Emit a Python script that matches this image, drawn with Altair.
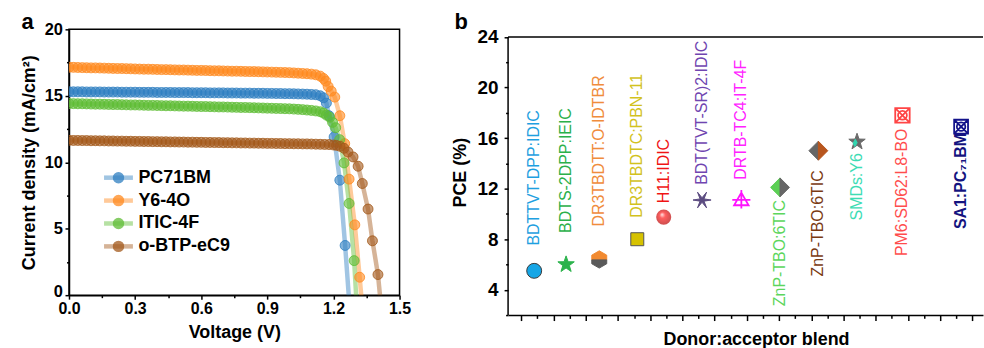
import altair as alt
import pandas as pd

FONT = "Liberation Sans"

# ---------------- panel a : J-V curves ----------------
SERIES = ["PC71BM", "Y6-4O", "ITIC-4F", "o-BTP-eC9"]
SERIES_COLORS = ["#2f7fc1", "#ff8a1f", "#5fbd35", "#a3591b"]

V_FLAT = [0.00, 0.02, 0.04, 0.06, 0.08, 0.10, 0.12, 0.14, 0.16, 0.18,
          0.20, 0.22, 0.24, 0.26, 0.28, 0.30, 0.32, 0.34, 0.36, 0.38,
          0.40, 0.42, 0.44, 0.46, 0.48, 0.50, 0.52, 0.54, 0.56, 0.58,
          0.60, 0.62, 0.64, 0.66, 0.68, 0.70, 0.72, 0.74, 0.76, 0.78,
          0.80, 0.82, 0.84, 0.86, 0.88, 0.90, 0.92, 0.94, 0.96, 0.98,
          1.00, 1.02, 1.04, 1.06, 1.08, 1.10]

J_PC71BM = [15.30, 15.30, 15.30, 15.30, 15.29, 15.29, 15.29, 15.29, 15.28, 15.28,
            15.28, 15.28, 15.27, 15.27, 15.27, 15.27, 15.26, 15.26, 15.26, 15.26,
            15.25, 15.25, 15.25, 15.25, 15.24, 15.24, 15.24, 15.24, 15.23, 15.23,
            15.23, 15.23, 15.22, 15.22, 15.22, 15.22, 15.21, 15.21, 15.21, 15.20,
            15.20, 15.20, 15.19, 15.19, 15.19, 15.18, 15.18, 15.17, 15.17, 15.16,
            15.16, 15.15, 15.14, 15.13, 15.12, 15.10]
V_PC71BM_END = [1.12, 1.14, 1.155, 1.168, 1.18, 1.203, 1.229, 1.253, 1.276]
J_PC71BM_END = [15.08, 15.00, 14.85, 14.45, 13.50, 11.90, 8.65, 3.74, -1.5]

J_Y64O = [17.15, 17.14, 17.13, 17.12, 17.11, 17.10, 17.10, 17.09, 17.08, 17.07,
          17.06, 17.05, 17.05, 17.04, 17.03, 17.02, 17.01, 17.00, 17.00, 16.99,
          16.98, 16.97, 16.97, 16.96, 16.95, 16.94, 16.94, 16.93, 16.92, 16.91,
          16.91, 16.90, 16.89, 16.88, 16.88, 16.87, 16.86, 16.85, 16.85, 16.84,
          16.83, 16.82, 16.82, 16.81, 16.80, 16.79, 16.78, 16.77, 16.76, 16.75,
          16.74, 16.72, 16.70, 16.68, 16.66, 16.63]
V_Y64O_END = [1.12, 1.14, 1.155, 1.165, 1.176, 1.19, 1.206, 1.229, 1.251, 1.271, 1.297, 1.319, 1.334]
J_Y64O_END = [16.58, 16.48, 16.30, 16.10, 15.70, 15.35, 14.90, 13.50, 11.40, 8.73, 5.29, 1.35, -1.5]

J_ITIC4F = [14.42, 14.41, 14.40, 14.40, 14.39, 14.38, 14.37, 14.37, 14.36, 14.35,
            14.34, 14.34, 14.33, 14.32, 14.31, 14.31, 14.30, 14.29, 14.28, 14.28,
            14.27, 14.26, 14.25, 14.25, 14.24, 14.23, 14.22, 14.22, 14.21, 14.20,
            14.19, 14.19, 14.18, 14.17, 14.16, 14.16, 14.15, 14.14, 14.13, 14.12,
            14.12, 14.11, 14.10, 14.09, 14.08, 14.07, 14.06, 14.05, 14.04, 14.03,
            14.02, 14.00, 13.98, 13.96, 13.93, 13.90]
V_ITIC4F_END = [1.12, 1.14, 1.155, 1.168, 1.183, 1.196, 1.21, 1.228, 1.248, 1.271, 1.294, 1.308]
J_ITIC4F_END = [13.86, 13.80, 13.70, 13.55, 13.39, 13.00, 12.60, 11.70, 9.95, 6.90, 2.60, -1.5]

J_OBTP = [11.65, 11.64, 11.64, 11.63, 11.63, 11.62, 11.62, 11.61, 11.61, 11.60,
          11.60, 11.59, 11.59, 11.58, 11.58, 11.57, 11.57, 11.56, 11.56, 11.55,
          11.55, 11.54, 11.54, 11.53, 11.53, 11.52, 11.52, 11.51, 11.51, 11.50,
          11.50, 11.49, 11.49, 11.48, 11.48, 11.47, 11.47, 11.46, 11.46, 11.45,
          11.45, 11.44, 11.44, 11.43, 11.43, 11.42, 11.42, 11.41, 11.41, 11.40,
          11.40, 11.39, 11.39, 11.38, 11.38, 11.37]
V_OBTP_END = [1.12, 1.14, 1.16, 1.18, 1.20, 1.214, 1.23, 1.248, 1.266, 1.289, 1.312, 1.331, 1.357, 1.377, 1.402, 1.42]
J_OBTP_END = [11.36, 11.35, 11.34, 11.33, 11.30, 11.27, 11.20, 11.05, 10.77, 10.40, 9.70, 8.40, 6.48, 4.09, 1.55, -1.5]

X_TICKS_A = [0, 0.15, 0.3, 0.45, 0.6, 0.75, 0.9, 1.05, 1.2, 1.35, 1.5]
Y_TICKS_A = [0, 2.5, 5, 7.5, 10, 12.5, 15, 17.5, 20]

# ---------------- panel b : PCE of blends ----------------
BLENDS = ["BDTTVT-DPP:IDIC", "BDTS-2DPP:IEIC", "DR3TBDTT:O-IDTBR", "DR3TBDTC:PBN-11",
          "H11:IDIC", "BDT(TVT-SR)2:IDIC", "DRTB-TC4:IT-4F", "ZnP-TBO:6TIC",
          "ZnP-TBO:6TIC", "SMDs:Y6", "PM6:SD62:L8-BO", "SA1:PC\u2087\u2081BM"]
PCE = [5.5, 6.0, 6.4, 8.0, 9.75, 11.1, 11.15, 12.1, 15.0, 15.7, 17.8, 16.9]
XPOS = [0.40, 1.39, 2.42, 3.60, 4.42, 5.61, 6.83, 8.03, 9.22, 10.42, 11.83, 13.65]
LABEL_AT = [7.5, 8.5, 9.0, 9.7, 10.85, 12.3, 12.7, 11.1, 13.45, 14.8, 16.75, 16.4]
LABEL_SIDE = ["above"] * 7 + ["below"] * 5
LABEL_COLORS = ["#1ea0e0", "#2bb04a", "#f08c3c", "#d2c21e", "#f01414", "#7045b0",
                "#ff22ff", "#5cd65c", "#7a3a12", "#3ddcb4", "#ff4d4d", "#141480"]
X_TICKS_B = [i * 0.5 for i in range(0, 29)]
Y_TICKS_B = [2, 4, 6, 8, 10, 12, 14, 16, 18, 20, 22, 24]
XMIN, XMAX = -0.41, 14.33
YMIN, YTOP, YMAX = 2, 24, 24.6

# symbol paths (unit box)
STAR = "M0,-1L0.235,-0.324L0.951,-0.309L0.38,0.124L0.588,0.809L0,0.4L-0.588,0.809L-0.38,0.124L-0.951,-0.309L-0.235,-0.324Z"
STAR6 = "M1,0L0.22,0.125L0.5,0.866L0,0.25L-0.5,0.866L-0.22,0.125L-1,0L-0.22,-0.125L-0.5,-0.866L0,-0.25L0.5,-0.866L0.22,-0.125Z"
HEX_TOP = "M-0.866,0.05L-0.866,-0.5L0,-1L0.866,-0.5L0.866,0.05Z"
HEX_BOT = "M-0.866,0.05L0.866,0.05L0.866,0.5L0,1L-0.866,0.5Z"
DIA_L = "M0,-1L-1,0L0,1Z"
DIA_R = "M0,-1L1,0L0,1Z"
TEAL_BIT = "M-0.2,-0.3L-0.45,0.15L-0.25,0.55L0.02,0.1Z"
TRI_PLUS = "M0,-0.75L0.8,0.65L-0.8,0.65ZM0,-1.05L0,1M-1,0.05L1,0.05"
BOX_X = "M-0.9,-0.9L0.9,-0.9L0.9,0.9L-0.9,0.9ZM-0.9,-0.9L0.9,0.9M0.9,-0.9L-0.9,0.9M0.55,0A0.55,0.55 0 1,1 -0.55,0A0.55,0.55 0 1,1 0.55,0Z"

# ---------------- build tables ----------------
rows = []
for name, jf, ve, je in [("PC71BM", J_PC71BM, V_PC71BM_END, J_PC71BM_END),
                          ("Y6-4O", J_Y64O, V_Y64O_END, J_Y64O_END),
                          ("ITIC-4F", J_ITIC4F, V_ITIC4F_END, J_ITIC4F_END),
                          ("o-BTP-eC9", J_OBTP, V_OBTP_END, J_OBTP_END)]:
    for i, (v, j) in enumerate(zip(V_FLAT + ve, jf + je)):
        rows.append({"name": name, "V": v, "J": j, "i": i})
jv = pd.DataFrame(rows)

labels = pd.DataFrame({"blend": BLENDS, "pce": LABEL_AT, "xpos": XPOS,
                       "side": LABEL_SIDE, "tcol": LABEL_COLORS})

filled_parts = pd.DataFrame({
    "xpos": [XPOS[0], XPOS[1], XPOS[2], XPOS[2], XPOS[3], XPOS[5], XPOS[7], XPOS[7], XPOS[8], XPOS[8], XPOS[9], XPOS[9]],
    "pce":  [PCE[0], PCE[1], PCE[2], PCE[2], PCE[3], PCE[5], PCE[7], PCE[7], PCE[8], PCE[8], PCE[9], PCE[9]],
    "shape": ["circle", STAR, HEX_TOP, HEX_BOT, "square", STAR6, DIA_L, DIA_R, DIA_L, DIA_R, STAR, TEAL_BIT],
    "fill": ["#16a6e6", "#2bb24c", "#f28a30", "#5a5a5a", "#d6c200", "#5b4b80", "#5ccf55", "#666666",
             "#666666", "#b8561e", "#6a6a6a", "#33d6b0"],
    "stroke": ["#3a3a3a", "#2bb24c", "#f28a30", "#5a5a5a", "#555555", "#5b4b80", "#5ccf55", "#666666",
               "#666666", "#b8561e", "#6a6a6a", "#33d6b0"],
    "size": [225, 300, 300, 300, 170, 330, 360, 360, 360, 360, 300, 300],
})
open_parts = pd.DataFrame({
    "xpos": [XPOS[6], XPOS[10], XPOS[11]],
    "pce": [PCE[6], PCE[10], PCE[11]],
    "shape": [TRI_PLUS, BOX_X, BOX_X],
    "stroke": ["#ff11ff", "#ff4545", "#12128a"],
    "size": [330, 260, 240],
})
sphere = pd.DataFrame({"xpos": [XPOS[4]], "pce": [PCE[4]]})
frame_b = pd.DataFrame({"xpos": [XMIN, XMIN], "x2": [XMAX, XMIN],
                        "pce": [YTOP, YMIN], "y2": [YTOP, YTOP]})

# ---------------- panel a chart ----------------
AX_COMMON = dict(domainColor="black", domainWidth=1.5, tickColor="black", tickWidth=1.5,
                 labelFont=FONT, labelFontWeight="bold", labelColor="black", labelFlush=False,
                 labelOverlap=False,
                 titleFont=FONT, titleFontWeight="bold", titleColor="black", grid=False)

xa = alt.X("V:Q", scale=alt.Scale(domain=[0, 1.5], nice=False, zero=False),
           axis=alt.Axis(values=X_TICKS_A, title="Voltage (V)",
                         labelExpr="round(datum.value*20) % 2 == 0 ? format(datum.value, '.1f') : ''",
                         tickSize={"condition": {"test": "round(datum.value*20) % 2 == 0", "value": 4}, "value": 2.5},
                         labelFontSize=16, titleFontSize=18, labelPadding=1.5, titlePadding=7.5,
                         **AX_COMMON))
ya = alt.Y("J:Q", scale=alt.Scale(domain=[0, 20], nice=False, zero=False),
           axis=alt.Axis(values=Y_TICKS_A, title="Current density (mA/cm\u00b2)",
                         labelExpr="datum.value % 5 == 0 ? format(datum.value, 'd') : ''",
                         tickSize={"condition": {"test": "datum.value % 5 == 0", "value": 4}, "value": 2.5},
                         labelOffset={"condition": {"test": "datum.value == 0", "value": -3.5}, "value": 0},
                         labelFontSize=16.5, titleFontSize=18, labelPadding=2.6, titlePadding=5.6,
                         **AX_COMMON))

LEG_X, LEG_Y = 40.7, 140
leg_common = dict(orient="none", legendX=LEG_X, legendY=LEG_Y, title=None, symbolSize=100,
                  labelFont=FONT, labelFontSize=18, labelFontWeight="bold", labelColor="black",
                  labelOffset=11, rowPadding=5, padding=0)

line_layer = alt.Chart(jv).mark_line(strokeWidth=4.5, opacity=0.45, clip=True).encode(
    x=xa, y=ya,
    color=alt.Color("name:N", scale=alt.Scale(domain=SERIES, range=SERIES_COLORS),
                    legend=alt.Legend(symbolType="M-2.9,0L2.9,0", symbolStrokeWidth=4.5,
                                      symbolOpacity=0.45, labelOpacity=0, **leg_common)),
    order="i:Q")
pt_layer = alt.Chart(jv).mark_point(filled=True, size=100, fillOpacity=0.6, strokeWidth=1,
                                    strokeOpacity=0.8, clip=True).encode(
    x=xa, y=ya,
    color=alt.Color("name:N", scale=alt.Scale(domain=SERIES, range=SERIES_COLORS),
                    legend=alt.Legend(symbolType="circle", symbolOpacity=0.75, **leg_common)),
    stroke=alt.Stroke("name:N", scale=alt.Scale(domain=SERIES, range=SERIES_COLORS), legend=None))
a_label = alt.Chart(pd.DataFrame({"t": ["a"]})).mark_text(
    font=FONT, fontSize=22, fontWeight="bold", align="left", baseline="alphabetic", color="black"
).encode(text="t:N", x=alt.value(-47.6), y=alt.value(0))

left = alt.layer(line_layer, pt_layer, a_label).resolve_scale(color="independent", stroke="independent").properties(
    width=332, height=267, view=alt.ViewBackground(stroke="black", strokeWidth=1.5))

# ---------------- panel b chart ----------------
def xb():
    return alt.X("xpos:Q", scale=alt.Scale(domain=[XMIN, XMAX], nice=False, zero=False),
                 axis=alt.Axis(values=X_TICKS_B, labels=False, title="Donor:acceptor blend",
                               tickSize={"condition": {"test": "datum.value % 1 == 0", "value": 5.5}, "value": 3.3},
                               titleFontSize=18, titlePadding=9, titleX=249, **AX_COMMON))
def yb():
    return alt.Y("pce:Q", scale=alt.Scale(domain=[YMIN, YMAX], nice=False, zero=False),
                 axis=alt.Axis(values=Y_TICKS_B, title="PCE (%)", domain=False,
                               labelExpr="datum.value % 4 == 0 ? format(datum.value, 'd') : ''",
                               tickSize={"condition": {"test": "datum.value % 4 == 0", "value": 4}, "value": 2.5},
                               labelFontSize=19, titleFontSize=18, labelPadding=6, titlePadding=7.3,
                               **AX_COMMON))

frame_layer = alt.Chart(frame_b).mark_rule(color="black", strokeWidth=1.5).encode(
    x=xb(), x2="x2:Q", y=yb(), y2="y2:Q")
filled_layer = alt.Chart(filled_parts).mark_point(filled=True, strokeWidth=1, opacity=1).encode(
    x=xb(), y=yb(),
    shape=alt.Shape("shape:N", scale=None), fill=alt.Fill("fill:N", scale=None),
    stroke=alt.Stroke("stroke:N", scale=None), size=alt.Size("size:Q", scale=None))
open_layer = alt.Chart(open_parts).mark_point(filled=False, strokeWidth=1.8, opacity=1).encode(
    x=xb(), y=yb(),
    shape=alt.Shape("shape:N", scale=None), stroke=alt.Stroke("stroke:N", scale=None),
    size=alt.Size("size:Q", scale=None))
sphere_layer = alt.Chart(sphere).mark_point(
    filled=True, size=230, shape="circle", strokeWidth=0,
    fill=alt.RadialGradient(gradient="radial", x1=0.38, y1=0.32, r1=0.0, x2=0.5, y2=0.5, r2=0.55,
                            stops=[alt.GradientStop(offset=0, color="#ffe0e0"),
                                   alt.GradientStop(offset=0.35, color="#ff1a1a"),
                                   alt.GradientStop(offset=1, color="#b00000")])
).encode(x=xb(), y=yb())

lab_above = alt.Chart(labels).transform_filter("datum.side == 'above'").mark_text(
    angle=270, align="left", baseline="middle", font=FONT, fontSize=16).encode(
    x=xb(), y=yb(), text="blend:N", color=alt.Color("tcol:N", scale=None))
lab_below = alt.Chart(labels).transform_filter("datum.side == 'below' && datum.xpos < 13").mark_text(
    angle=270, align="right", baseline="middle", font=FONT, fontSize=16).encode(
    x=xb(), y=yb(), text="blend:N", color=alt.Color("tcol:N", scale=None))
lab_sa1 = alt.Chart(labels).transform_filter("datum.xpos > 13").mark_text(
    angle=270, align="right", baseline="middle", font=FONT, fontSize=16, fontWeight="bold").encode(
    x=xb(), y=yb(), text="blend:N", color=alt.Color("tcol:N", scale=None))

b_label = alt.Chart(pd.DataFrame({"t": ["b"]})).mark_text(
    font=FONT, fontSize=22, fontWeight="bold", align="left", baseline="alphabetic", color="black"
).encode(text="t:N", x=alt.value(-53.7), y=alt.value(0))

right = alt.layer(frame_layer, filled_layer, sphere_layer, open_layer, lab_above, lab_below, lab_sa1,
                  b_label).properties(width=477, height=287,
                                      view=alt.ViewBackground(strokeWidth=0))

chart = alt.hconcat(left, right, spacing=40).properties(
    padding={"left": 19.3, "top": 9.7, "right": 0, "bottom": 0},
    background="white").configure_view(strokeWidth=0)

chart.save("out.html", embed_options={"renderer": "svg", "actions": False})
